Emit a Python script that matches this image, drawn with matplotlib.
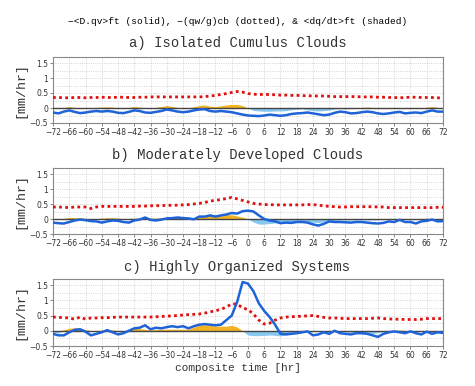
import numpy as np
import matplotlib
matplotlib.use("Agg")
import matplotlib.pyplot as plt

# composite time, every 2 hours
hours = np.arange(-72, 73, 2)

# a) Isolated Cumulus Clouds
flux_a = [-0.15, -0.18, -0.12, -0.08, -0.13, -0.17, -0.15, -0.12, -0.10, -0.12,
          -0.10, -0.12, -0.16, -0.17, -0.13, -0.08, -0.10, -0.15, -0.16, -0.13,
          -0.10, -0.05, -0.08, -0.12, -0.14, -0.12, -0.08, -0.05, -0.04, -0.10,
          -0.12, -0.10, -0.12, -0.14, -0.18, -0.22, -0.25, -0.26, -0.27, -0.25,
          -0.22, -0.24, -0.26, -0.24, -0.20, -0.18, -0.17, -0.15, -0.18, -0.21,
          -0.24, -0.22, -0.16, -0.12, -0.14, -0.18, -0.17, -0.14, -0.12, -0.14,
          -0.18, -0.20, -0.18, -0.15, -0.13, -0.18, -0.16, -0.15, -0.17, -0.12,
          -0.08, -0.12, -0.12]
cb_a = [0.35, 0.35, 0.34, 0.34, 0.35, 0.35, 0.34, 0.35, 0.35, 0.36,
        0.35, 0.35, 0.36, 0.36, 0.35, 0.35, 0.36, 0.36, 0.37, 0.37,
        0.37, 0.37, 0.37, 0.37, 0.37, 0.37, 0.37, 0.37, 0.38, 0.40,
        0.42, 0.45, 0.48, 0.52, 0.55, 0.53, 0.48, 0.46, 0.45, 0.45,
        0.45, 0.44, 0.43, 0.43, 0.42, 0.42, 0.41, 0.41, 0.40, 0.40,
        0.40, 0.39, 0.38, 0.38, 0.38, 0.38, 0.38, 0.37, 0.37, 0.37,
        0.36, 0.36, 0.35, 0.35, 0.34, 0.35, 0.36, 0.36, 0.35, 0.35,
        0.35, 0.34, 0.33]
dqdt_a = [0.00, 0.00, 0.02, 0.05, 0.02, 0.00, 0.00, 0.00, 0.02, 0.03,
          0.04, 0.03, 0.00, 0.00, 0.02, 0.05, 0.03, 0.00, 0.00, 0.02,
          0.05, 0.08, 0.05, 0.02, 0.00, 0.00, 0.04, 0.08, 0.10, 0.06,
          0.05, 0.07, 0.10, 0.12, 0.12, 0.08, 0.00, -0.08, -0.10, -0.11,
          -0.11, -0.10, -0.10, -0.09, -0.06, -0.04, -0.03, -0.06, -0.09, -0.10,
          -0.09, -0.07, -0.03, -0.02, -0.03, -0.02, 0.00, 0.02, 0.03, 0.02,
          0.00, -0.02, -0.01, -0.01, 0.00, -0.01, -0.01, -0.01, 0.00, 0.03,
          0.05, 0.02, 0.00]

# b) Moderately Developed Clouds
flux_b = [-0.12, -0.14, -0.15, -0.10, -0.05, -0.02, -0.04, -0.07, -0.08, -0.12,
          -0.08, -0.05, -0.06, -0.10, -0.12, -0.05, -0.02, 0.05, -0.03, -0.05,
          -0.02, 0.02, 0.03, 0.05, 0.03, 0.02, -0.01, 0.08, 0.08, 0.12,
          0.08, 0.12, 0.15, 0.20, 0.18, 0.26, 0.28, 0.25, 0.12, 0.00,
          -0.05, -0.08, -0.14, -0.12, -0.13, -0.10, -0.10, -0.12, -0.18, -0.22,
          -0.16, -0.08, -0.10, -0.10, -0.11, -0.12, -0.10, -0.10, -0.12, -0.14,
          -0.15, -0.13, -0.08, -0.10, -0.03, -0.10, -0.10, -0.15, -0.08, -0.06,
          -0.02, -0.08, -0.07]
cb_b = [0.40, 0.40, 0.39, 0.38, 0.40, 0.40, 0.40, 0.35, 0.40, 0.42,
        0.42, 0.42, 0.42, 0.42, 0.42, 0.42, 0.43, 0.43, 0.44, 0.44,
        0.45, 0.45, 0.46, 0.46, 0.47, 0.48, 0.50, 0.52, 0.55, 0.60,
        0.62, 0.65, 0.68, 0.72, 0.67, 0.62, 0.57, 0.52, 0.50, 0.48,
        0.48, 0.47, 0.47, 0.47, 0.47, 0.47, 0.47, 0.48, 0.48, 0.46,
        0.44, 0.42, 0.41, 0.40, 0.40, 0.41, 0.41, 0.41, 0.41, 0.41,
        0.40, 0.40, 0.38, 0.38, 0.38, 0.38, 0.38, 0.38, 0.38, 0.38,
        0.38, 0.39, 0.39]
dqdt_b = [0.00, 0.00, 0.02, 0.05, 0.05, 0.04, 0.02, 0.00, 0.01, 0.03,
          0.04, 0.05, 0.03, 0.01, 0.02, 0.03, 0.03, 0.04, 0.03, 0.03,
          0.04, 0.05, 0.05, 0.05, 0.05, 0.04, 0.04, 0.08, 0.10, 0.12,
          0.13, 0.14, 0.15, 0.14, 0.10, 0.06, 0.00, -0.10, -0.17, -0.17,
          -0.15, -0.13, -0.11, -0.10, -0.10, -0.09, -0.09, -0.10, -0.11, -0.12,
          -0.09, -0.06, -0.04, -0.03, -0.03, -0.03, -0.03, -0.03, -0.03, -0.03,
          -0.03, -0.02, -0.01, -0.01, 0.03, -0.01, -0.02, -0.02, 0.00, 0.03,
          0.00, -0.01, -0.01]

# c) Highly Organized Systems
flux_c = [-0.10, -0.15, -0.15, -0.05, 0.03, 0.05, -0.03, -0.15, -0.10, -0.05,
          0.02, -0.05, -0.12, -0.08, 0.00, 0.08, 0.10, 0.18, 0.05, 0.10,
          0.08, 0.12, 0.15, 0.12, 0.15, 0.08, 0.15, 0.20, 0.22, 0.20,
          0.18, 0.20, 0.35, 0.50, 0.95, 1.60, 1.55, 1.30, 0.90, 0.65,
          0.45, 0.20, -0.10, -0.12, -0.10, -0.08, -0.05, -0.02, -0.15, -0.12,
          -0.05, -0.10, 0.00, -0.08, -0.10, -0.12, -0.08, -0.08, -0.10, -0.15,
          -0.20, -0.10, -0.05, -0.02, -0.05, -0.08, -0.02, -0.08, -0.12, -0.03,
          -0.10, -0.05, -0.07]
cb_c = [0.45, 0.44, 0.43, 0.42, 0.38, 0.45, 0.38, 0.42, 0.42, 0.43,
        0.43, 0.44, 0.45, 0.45, 0.45, 0.45, 0.45, 0.45, 0.45, 0.46,
        0.47, 0.48, 0.49, 0.50, 0.52, 0.53, 0.54, 0.55, 0.58, 0.62,
        0.66, 0.70, 0.78, 0.88, 0.88, 0.75, 0.70, 0.55, 0.35, 0.22,
        0.25, 0.35, 0.42, 0.45, 0.46, 0.47, 0.48, 0.49, 0.50, 0.47,
        0.44, 0.42, 0.42, 0.41, 0.40, 0.40, 0.40, 0.40, 0.40, 0.41,
        0.42, 0.40, 0.39, 0.38, 0.38, 0.37, 0.37, 0.37, 0.38, 0.40,
        0.40, 0.40, 0.40]
dqdt_c = [-0.05, -0.07, 0.03, 0.08, 0.10, 0.08, 0.04, 0.00, 0.00, 0.02,
          0.05, 0.03, 0.00, 0.00, 0.03, 0.08, 0.07, 0.05, 0.03, 0.04,
          0.05, 0.05, 0.05, 0.05, 0.05, 0.05, 0.12, 0.18, 0.20, 0.18,
          0.15, 0.15, 0.15, 0.18, 0.12, 0.00, -0.14, -0.16, -0.16, -0.15,
          -0.14, -0.15, -0.17, -0.12, -0.06, -0.04, -0.03, -0.02, -0.02, -0.03,
          -0.03, -0.02, -0.02, -0.03, -0.03, -0.05, -0.06, -0.07, -0.09, -0.09,
          -0.06, -0.03, -0.02, -0.01, 0.03, 0.00, -0.01, -0.01, -0.01, 0.00,
          -0.01, -0.01, -0.01]

titles = ["a) Isolated Cumulus Clouds",
          "b) Moderately Developed Clouds",
          "c) Highly Organized Systems"]
panels = [(flux_a, cb_a, dqdt_a), (flux_b, cb_b, dqdt_b), (flux_c, cb_c, dqdt_c)]

xticks = np.arange(-72, 73, 6)
xticklabels = [str(t).replace("-", "\u2212") for t in xticks]
yticks = [-0.5, 0, 0.5, 1, 1.5]
yticklabels = ["\u22120.5", "0", "0.5", "1", "1.5"]

MONO = "Liberation Mono"
BLUE = "#1f63d8"
RED = "#e01010"
ORANGE = "#f2b221"
LBLUE = "#86c8f0"

fig = plt.figure(figsize=(4.75, 3.86), dpi=100)
fig.patch.set_facecolor("white")

fig.text(0.5, 1 - 21 / 386,
         "\u2212<D.qv>ft (solid), \u2212(qw/g)cb (dotted), & <dq/dt>ft (shaded)",
         ha="center", va="center", fontsize=6.8, family=MONO)

# axes boxes in pixel units: top, bottom
boxes = [(57, 123), (168, 234), (279, 346)]
title_y = [43, 155, 267]
left, right = 53 / 475, 443 / 475

for i, ((flux, cb, dq), (top, bot)) in enumerate(zip(panels, boxes)):
    ax = fig.add_axes([left, 1 - bot / 386, right - left, (bot - top) / 386])
    dq = np.array(dq)
    # shaded tendency: orange above zero, light blue below
    ax.fill_between(hours, 0, np.maximum(dq, 0), color=ORANGE, lw=0, zorder=2)
    ax.fill_between(hours, 0, np.minimum(dq, 0), color=LBLUE, lw=0, zorder=2)
    ax.axhline(0, color="#444444", lw=1.0, zorder=3)
    ax.plot(hours, cb, color=RED, lw=2, linestyle=(0, (1, 1.2)), zorder=4)
    ax.plot(hours, flux, color=BLUE, lw=1.8, zorder=5)

    ax.set_xlim(-72, 72)
    ax.set_ylim(-0.5, 1.7)
    ax.set_xticks(xticks)
    ax.set_xticklabels(xticklabels)
    ax.set_yticks(yticks)
    ax.set_yticklabels(yticklabels)
    ax.set_yticks(np.arange(-0.25, 1.7, 0.25), minor=True)
    ax.tick_params(labelsize=5.5, length=2, width=0.5, colors="#555555",
                   labelcolor="#333333", pad=1.5)
    ax.tick_params(which="minor", length=0)
    ax.grid(True, which="both", color="#c8c8c8", linestyle=":", lw=0.6)
    for s in ax.spines.values():
        s.set_color("#888888")
        s.set_linewidth(0.8)

    fig.text(0.5, 1 - title_y[i] / 386, titles[i], ha="center", va="center",
             fontsize=10, family=MONO, color="#333333")
    fig.text(20 / 475, 1 - (top + bot) / 2 / 386, "[mm/hr]", rotation=90,
             ha="center", va="center", fontsize=9.5, family=MONO, color="#333333")

fig.text(0.5, 1 - 368 / 386, "composite time [hr]", ha="center", va="center",
         fontsize=8, family=MONO, color="#333333")

fig.savefig("out.png", dpi=100)
